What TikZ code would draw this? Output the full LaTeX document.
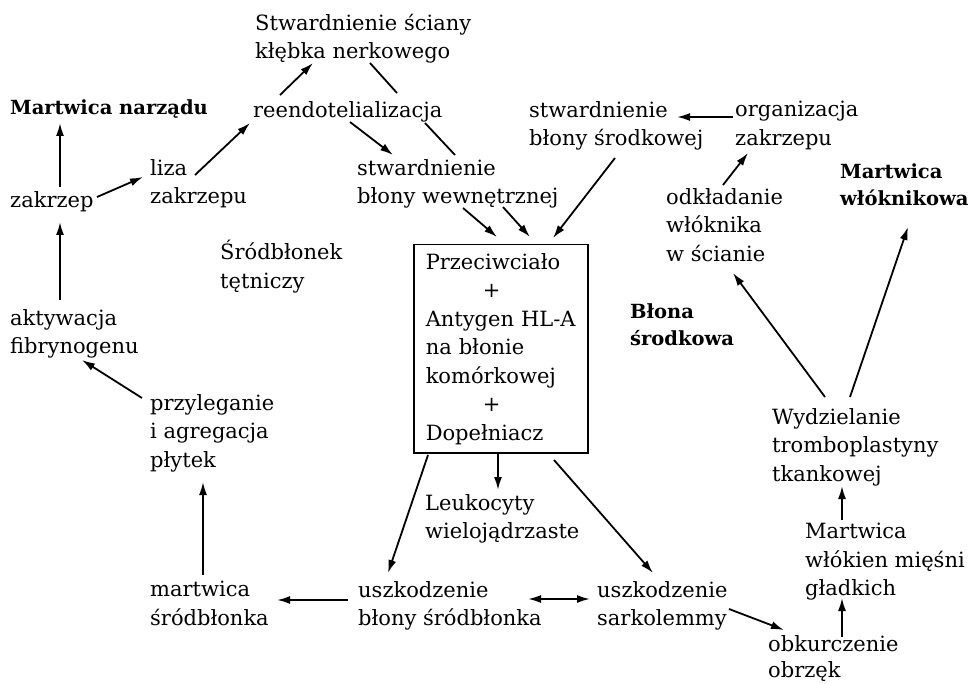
\documentclass[tikz,border=0pt]{standalone}
\usepackage{fontspec}
\setmainfont{DejaVu Serif}
\usetikzlibrary{arrows.meta}
\begin{document}
\begin{tikzpicture}[x=1pt,y=-1pt,
  lbl/.style={anchor=north west, inner sep=0pt, align=left, font=\fontsize{21}{28.5}\selectfont},
  blbl/.style={lbl, font=\fontsize{19.5}{27.5}\selectfont\bfseries},
  ln/.style={line width=1.8pt},
  arr/.style={line width=1.8pt, -{Latex[length=13pt,width=8pt]}},
  darr/.style={line width=1.8pt, {Latex[length=13pt,width=8pt]}-{Latex[length=13pt,width=8pt]}}]
\useasboundingbox[fill=white] (0,0) rectangle (972,684);

% nodes
\node[lbl]  (kleb)    at (255,14)  {Stwardnienie ściany\\kłębka nerkowego};
\node[blbl] (mn)      at (10,99)   {Martwica narządu};
\node[lbl]  (reendo)  at (253,101) {reendotelializacja};
\node[lbl]  (liza)    at (150,159) {liza\\zakrzepu};
\node[lbl]  (zakrzep) at (10,191)  {zakrzep};
\node[lbl]  (wewn)    at (357,159) {stwardnienie\\błony wewnętrznej};
\node[lbl]  (srodk)   at (529,101) {stwardnienie\\błony środkowej};
\node[lbl]  (organ)   at (735,101) {organizacja\\zakrzepu};
\node[lbl]  (odkl)    at (666,188) {odkładanie\\włóknika\\w ścianie};
\node[blbl] (mwl)     at (840,163) {Martwica\\włóknikowa};
\node[lbl]  (srodbl)  at (220,240) {Śródbłonek\\tętniczy};
\node[draw, line width=1.5pt, anchor=north west, inner xsep=12pt, inner ysep=7pt,
      text width=150pt, align=left, minimum height=208pt,
      font=\fontsize{21}{28.5}\selectfont] (box) at (413,244)
      {Przeciwciało\\\hspace*{57pt}+\\Antygen HL-A\\na błonie\\komórkowej\\\hspace*{57pt}+\\Dopełniacz};
\node[lbl]  (aktyw)   at (10,309)  {aktywacja\\fibrynogenu};
\node[lbl]  (przyl)   at (150,394) {przyleganie\\i agregacja\\płytek};
\node[blbl] (blona)   at (630,303) {Błona\\środkowa};
\node[lbl]  (wydz)    at (772,408) {Wydzielanie\\tromboplastyny\\tkankowej};
\node[lbl]  (leuk)    at (425,494) {Leukocyty\\wielojądrzaste};
\node[lbl]  (mwm)     at (805,523) {Martwica\\włókien mięśni\\gładkich};
\node[lbl]  (msrod)   at (150,581) {martwica\\śródbłonka};
\node[lbl]  (uszb)    at (358,581) {uszkodzenie\\błony śródbłonka};
\node[lbl]  (uszs)    at (597,581) {uszkodzenie\\sarkolemmy};
\node[lbl, font=\fontsize{21}{26}\selectfont] (obk) at (768,635) {obkurczenie\\obrzęk};

% connectors
\draw[arr] ([shift={(27,-6)}]reendo.north west) -- ([shift={(58,49)}]kleb.north west);
\draw[ln]  ([shift={(115,49)}]kleb.north west) -- ([shift={(144,-8)}]reendo.north west);
\draw[arr] ([shift={(97,21)}]reendo.north west) -- ([shift={(36,-4)}]wewn.north west);
\draw[ln]  ([shift={(172,22)}]reendo.north west) -- ([shift={(98,-4)}]wewn.north west);
\draw[arr] ([shift={(45,16)}]liza.north west) -- ([shift={(-3,22)}]reendo.north west);
\draw[arr] ([shift={(87,6)}]zakrzep.north west) -- ([shift={(-7,18)}]liza.north west);
\draw[arr] ([shift={(50,-4)}]zakrzep.north west) -- ([shift={(50,24)}]mn.north west);
\draw[arr] ([shift={(50,-9)}]aktyw.north west) -- ([shift={(50,31)}]zakrzep.north west);
\draw[arr] ([shift={(-8,4)}]przyl.north west) -- ([shift={(72,51)}]aktyw.north west);
\draw[arr] ([shift={(53,-6)}]msrod.north west) -- ([shift={(53,88)}]przyl.north west);
\draw[arr] ([shift={(106,49)}]wewn.north west) -- ([shift={(84,-7)}]box.north west);
\draw[arr] ([shift={(146,48)}]wewn.north west) -- ([shift={(117,-7)}]box.north west);
\draw[arr] ([shift={(86,57)}]srodk.north west) -- ([shift={(140,-6)}]box.north west);
\draw[arr] ([shift={(57,-3)}]odkl.north west) -- ([shift={(13,52)}]organ.north west);
\draw[arr] ([shift={(-2,16)}]organ.north west) -- ([shift={(148,16)}]srodk.north west);
\draw[arr] ([shift={(53,-11)}]wydz.north west) -- ([shift={(67,85)}]odkl.north west);
\draw[arr] ([shift={(78,-11)}]wydz.north west) -- ([shift={(68,64)}]mwl.north west);
\draw[arr] ([shift={(37,-3)}]mwm.north west) -- ([shift={(70,78)}]wydz.north west);
\draw[arr] ([shift={(74,2)}]obk.north west) -- ([shift={(37,75)}]mwm.north west);
\draw[arr] ([shift={(132,28)}]uszs.north west) -- ([shift={(16,-5)}]obk.north west);
\draw[darr] ([shift={(170,18)}]uszb.north west) -- ([shift={(-7,18)}]uszs.north west);
\draw[arr] ([shift={(-10,19)}]uszb.north west) -- ([shift={(127,19)}]msrod.north west);
\draw[arr] ([shift={(85,208)}]box.north west) -- ([shift={(73,-4)}]leuk.north west);
\draw[arr] ([shift={(15,211)}]box.north west) -- ([shift={(30,-8)}]uszb.north west);
\draw[arr] ([shift={(141,216)}]box.north west) -- ([shift={(56,-8)}]uszs.north west);
\end{tikzpicture}
\end{document}
